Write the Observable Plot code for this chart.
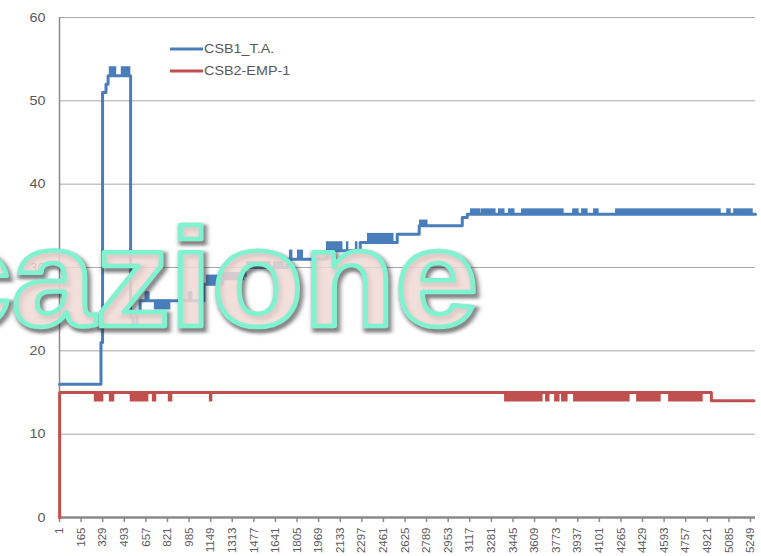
<!DOCTYPE html>
<html><head><meta charset="utf-8">
<script src="https://cdn.jsdelivr.net/npm/d3@7"></script>
<script src="https://cdn.jsdelivr.net/npm/@observablehq/plot@0.6"></script>
<style>body{margin:0;background:#fff} svg{display:block}</style>
</head><body><div id="chart"></div>
<script>
// ---- data ----
const seriesNames = ["CSB1_T.A.", "CSB2-EMP-1"];
const seriesColors = ["#4a7ebb", "#c0504d"];
const xTickLabels = [1,165,329,493,657,821,985,1149,1313,1477,1641,1805,1969,2133,2297,2461,2625,2789,2953,3117,3281,3445,3609,3773,3937,4101,4265,4429,4593,4757,4921,5085,5249];
const yTicks = [0,10,20,30,40,50,60];
const lastIndex = 5287;

// CSB1_T.A. : level runs (start category, value)
const blueRunStart = [1,316,328,354,370,541,560,590,613,658,674,985,1000,1099,1236,1411,1730,2034,2285,2566,2733,3060,3098,5287];
const blueRunValue = [16,21,51,52,53,24,23,24.5,26,27,26,27,26,28,29,30,31,32,33,34,35,36,36.4,36.4];
// CSB1_T.A. : ranges where the value flickers between two levels
const blueBandStart = [385,476,727,1122,1251,1426,1631,1753,1814,1836,2034,2186,2254,2346,2741,3128,3212,3341,3417,3516,3904,3972,4063,4230,5074,5127];
const blueBandEnd   = [430,537,841,1221,1403,1601,1700,1768,1825,1848,2148,2193,2262,2536,2794,3197,3311,3379,3455,3828,3942,4010,4094,5021,5097,5264];
const blueBandLow   = [53,53,25,28,28.5,30,30,31,31,31,32,32,32,33,35,36.4,36.4,36.4,36.4,36.4,36.4,36.4,36.4,36.4,36.4,36.4];
const blueBandHigh  = [54,54,26,29,29.3,30.6,30.6,32,32,32,33,33,33,34,35.6,36.95,36.95,36.95,36.95,36.95,36.95,36.95,36.95,36.95,36.95,36.95];

// CSB2-EMP-1 : level runs
const redRunStart = [1,2,4952,5275];
const redRunValue = [0,15,14,14];
// CSB2-EMP-1 : flicker ranges (15 <-> 14)
const redBandStart = [271,385,544,712,833,1145,3387,3698,3767,3820,3911,4390,4633];
const redBandEnd   = [332,415,674,734,856,1160,3668,3721,3797,3858,4329,4565,4884];
const redBandLow   = [13.95,13.95,13.95,13.95,13.95,13.95,13.95,13.95,13.95,13.95,13.95,13.95,13.95];
const redBandHigh  = [15,15,15,15,15,15,15,15,15,15,15,15,15];

const watermarkText = "cazione";

// ---- tables ----
const runs = (s, v, name) => s.map((d, k) => ({i: d, v: v[k], series: name}));
const bands = (s, e, lo, hi, name) => s.map((d, k) => ({i1: d, i2: e[k], lo: lo[k], hi: hi[k], series: name}));
const lineData = [...runs(blueRunStart, blueRunValue, seriesNames[0]), ...runs(redRunStart, redRunValue, seriesNames[1])];
const bandData = [...bands(blueBandStart, blueBandEnd, blueBandLow, blueBandHigh, seriesNames[0]),
                  ...bands(redBandStart, redBandEnd, redBandLow, redBandHigh, seriesNames[1])];

const font = "'Liberation Sans', Arial, sans-serif";
const textGray = "#595959";
const SX = 1.15;

const svg = Plot.plot({
  width: 761, height: 556,
  marginLeft: 59, marginRight: 6, marginTop: 17, marginBottom: 39,
  style: {fontFamily: font, fontSize: "12px", color: textGray, background: "#fff", overflow: "visible"},
  x: {type: "linear", domain: [1, lastIndex]},
  y: {domain: [0, 60]},
  color: {domain: seriesNames, range: seriesColors},
  marks: [
    Plot.gridY(yTicks, {stroke: "#a8a8a8", strokeOpacity: 1, strokeWidth: 1}),
    Plot.axisY(yTicks, {tickSize: 0, tickPadding: 14, label: null, fontSize: 12.5, fill: textGray}),
    Plot.axisX(xTickLabels, {tickFormat: d => String(d), tickRotate: -90, tickSize: 5, tickPadding: 5, label: null, fontSize: 11.5, fill: textGray, stroke: "#8a8a8a", strokeWidth: 1.5}),
    Plot.ruleX([1], {stroke: "#8a8a8a", strokeWidth: 1.5}),
    Plot.ruleY([0], {stroke: "#8a8a8a", strokeWidth: 2.5}),
    Plot.rect(bandData, {x1: "i1", x2: "i2", y1: "lo", y2: "hi", fill: "series", stroke: "series", strokeWidth: 1.5}),
    Plot.line(lineData, {x: "i", y: "v", z: "series", stroke: "series", strokeWidth: 3, curve: "step-after"})
  ]
});

// horizontal stretch of y tick labels (reference is slightly widened)
d3.select(svg).selectAll('[aria-label="y-axis tick label"] text').each(function() {
  const t = d3.select(this);
  const tr = t.attr("transform") || "";
  t.attr("transform", `${tr} scale(${SX},1)`);
});

const s = d3.select(svg);
// legend
const lg = s.append("g").attr("font-family", font).attr("font-size", 12.5).attr("fill", textGray).attr("text-anchor", "start");
seriesNames.forEach((name, k) => {
  const yy = 49 + k * 22;
  lg.append("line").attr("x1", 170).attr("x2", 203).attr("y1", yy).attr("y2", yy)
    .attr("stroke", seriesColors[k]).attr("stroke-width", 3);
  lg.append("text").attr("transform", `translate(204,${yy}) scale(${SX},1)`).attr("dy", "0.35em").text(name);
});

// watermark
const defs = s.append("defs");
defs.append("filter").attr("id", "wmblur").attr("x", "-10%").attr("y", "-10%").attr("width", "120%").attr("height", "120%")
  .append("feGaussianBlur").attr("stdDeviation", 1.8);
const wm = s.append("g").attr("transform", "translate(-72,326) scale(1.08,1)")
  .attr("font-family", font).attr("font-size", 139).attr("font-weight", "bold").attr("text-anchor", "start");
wm.append("text").attr("transform", "translate(2,3)").attr("fill", "none")
  .attr("stroke", "#333").attr("stroke-width", 7).attr("stroke-opacity", 0.6)
  .attr("filter", "url(#wmblur)").text(watermarkText);
wm.append("text").attr("fill", "#f0d9d5").attr("fill-opacity", 0.85)
  .attr("stroke", "#80f2d0").attr("stroke-width", 4.5).attr("stroke-linejoin", "round")
  .text(watermarkText);

document.getElementById("chart").appendChild(svg);
</script>
</body></html>
